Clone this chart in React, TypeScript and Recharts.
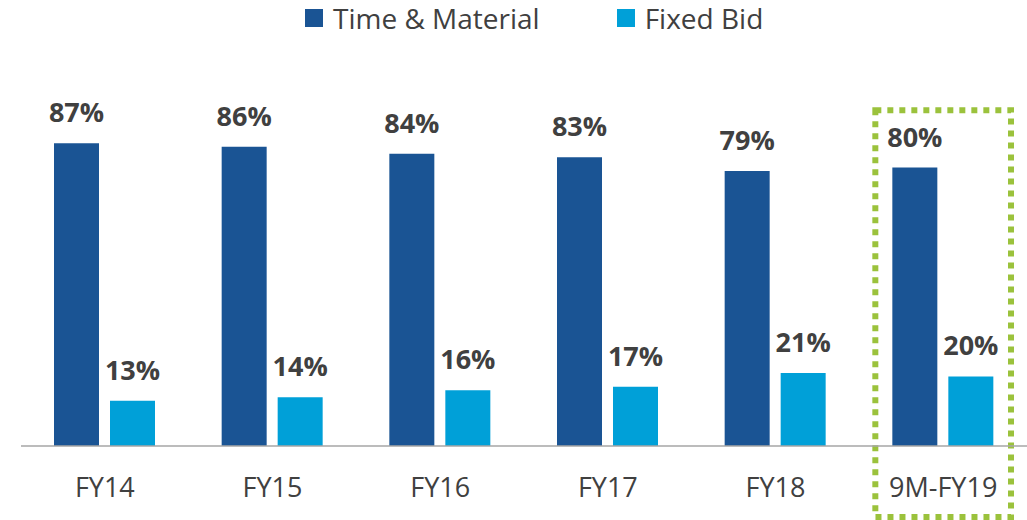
import React from 'react';
import { BarChart, Bar, XAxis, YAxis, LabelList, ReferenceArea } from 'recharts';

const years = ['FY14', 'FY15', 'FY16', 'FY17', 'FY18', '9M-FY19'];
const timeMaterial = [87, 86, 84, 83, 79, 80];
const fixedBid = [13, 14, 16, 17, 21, 20];

const DARK = '#1a5494';
const LIGHT = '#00a0d8';
const TEXT = '#404040';
const FONT = '"Open Sans", sans-serif';

const series = [
  { key: 'tm', name: 'Time & Material', color: DARK },
  { key: 'fb', name: 'Fixed Bid', color: LIGHT },
];

const data = years.map((y, i) => ({ year: y, tm: timeMaterial[i], fb: fixedBid[i] }));

const Tick = (props: any) => {
  const { x, y, payload } = props;
  return (
    <text x={x} y={y + 43} textAnchor="middle" fill={TEXT} fontSize={27} fontFamily={FONT}>
      {payload.value}
    </text>
  );
};

// dotted highlight box, inset a bit inside the category band
const HighlightBox = (props: any) => {
  const { x, y, width, height } = props;
  const inset = 16;
  return (
    <rect
      x={x + inset}
      y={y}
      width={width - inset * 2}
      height={height}
      fill="none"
      stroke="#9bc23c"
      strokeWidth={6}
      strokeDasharray="6 6"
    />
  );
};

export default function App() {
  return (
    <div style={{ position: 'absolute', left: 0, top: 0, width: 1027, height: 520, background: '#fff' }}>
      <div
        style={{
          position: 'absolute', top: 0, left: 305, display: 'flex', alignItems: 'center',
          fontFamily: FONT, fontSize: 28, color: TEXT, height: 36,
        }}
      >
        {series.map((s, i) => (
          <div key={s.key} style={{ display: 'flex', alignItems: 'center', marginRight: i === 0 ? 77 : 0 }}>
            <div style={{ width: 18, height: 18, background: s.color, marginRight: 10 }} />
            <span>{s.name}</span>
          </div>
        ))}
      </div>
      <BarChart
        width={1027}
        height={520}
        data={data}
        margin={{ top: 98, right: 0, bottom: 0, left: 21 }}
        barGap={11}
        barSize={45}
      >
        <XAxis
          dataKey="year"
          height={74}
          tickLine={false}
          axisLine={{ stroke: '#a6a6a6', strokeWidth: 1.5 }}
          tick={<Tick />}
          interval={0}
        />
        <YAxis hide domain={[0, 100]} />
        <ReferenceArea
          x1="9M-FY19"
          x2="9M-FY19"
          y1={-20.4}
          y2={96.5}
          ifOverflow="visible"
          shape={<HighlightBox />}
        />
        {series.map((s) => (
          <Bar key={s.key} dataKey={s.key} name={s.name} fill={s.color} isAnimationActive={false}>
            <LabelList
              dataKey={s.key}
              position="top"
              offset={21}
              formatter={(v: any) => `${v}%`}
              fill={TEXT}
              fontSize={27}
              fontWeight="bold"
              fontFamily={FONT}
            />
          </Bar>
        ))}
      </BarChart>
    </div>
  );
}
